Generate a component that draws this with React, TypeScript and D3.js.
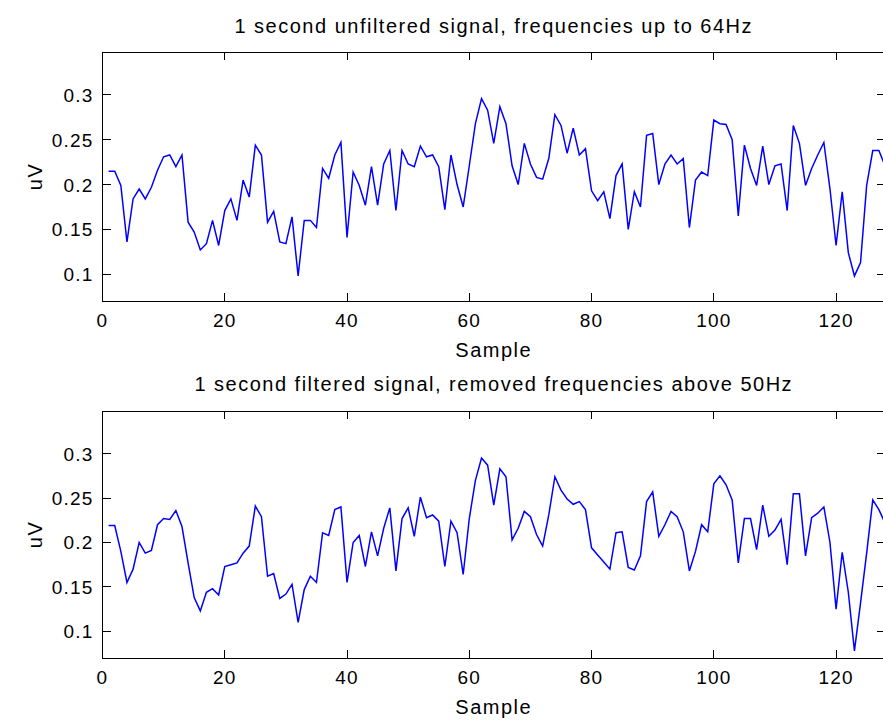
import React from "react";
import * as d3 from "d3";

const titles = [
  "1 second unfiltered signal, frequencies up to 64Hz",
  "1 second filtered signal, removed frequencies above 50Hz",
];
const xLabel = "Sample";
const yLabel = "uV";
const xTicks = [0, 20, 40, 60, 80, 100, 120];
const yTicks = [0.1, 0.15, 0.2, 0.25, 0.3];

const unfiltered = [
  0.215, 0.215, 0.199, 0.136, 0.184, 0.195, 0.184, 0.197, 0.216, 0.231,
  0.233, 0.22, 0.233, 0.158, 0.147, 0.127, 0.134, 0.16, 0.132, 0.171,
  0.184, 0.16, 0.205, 0.186, 0.244, 0.233, 0.158, 0.17, 0.136, 0.134,
  0.164, 0.098, 0.16, 0.16, 0.152, 0.218, 0.207, 0.233, 0.247, 0.141,
  0.214, 0.199, 0.177, 0.22, 0.177, 0.223, 0.238, 0.171, 0.238, 0.223,
  0.22, 0.243, 0.231, 0.233, 0.22, 0.172, 0.233, 0.2, 0.175, 0.221,
  0.268, 0.296, 0.283, 0.246, 0.287, 0.268, 0.221, 0.2, 0.246, 0.223,
  0.208, 0.206, 0.229, 0.278, 0.266, 0.235, 0.263, 0.233, 0.24, 0.193,
  0.182, 0.192, 0.162, 0.21, 0.223, 0.15, 0.192, 0.175, 0.255, 0.257,
  0.2, 0.223, 0.233, 0.223, 0.229, 0.152, 0.205, 0.214, 0.21, 0.272,
  0.268, 0.267, 0.25, 0.165, 0.244, 0.218, 0.199, 0.243, 0.2, 0.221,
  0.223, 0.171, 0.266, 0.246, 0.199, 0.218, 0.233, 0.247, 0.195, 0.132,
  0.192, 0.124, 0.098, 0.113, 0.199, 0.238, 0.238, 0.221,
];

const filtered = [
  0.219, 0.219, 0.19, 0.155, 0.17, 0.2, 0.188, 0.191, 0.22, 0.227,
  0.226, 0.236, 0.218, 0.177, 0.138, 0.123, 0.144, 0.148, 0.141, 0.173,
  0.175, 0.177, 0.188, 0.196, 0.241, 0.229, 0.162, 0.165, 0.137, 0.142,
  0.153, 0.11, 0.147, 0.162, 0.155, 0.211, 0.208, 0.237, 0.24, 0.155,
  0.2, 0.208, 0.173, 0.212, 0.185, 0.216, 0.239, 0.168, 0.227, 0.239,
  0.207, 0.251, 0.228, 0.231, 0.224, 0.173, 0.224, 0.211, 0.164, 0.227,
  0.27, 0.295, 0.287, 0.242, 0.283, 0.274, 0.203, 0.216, 0.235, 0.229,
  0.209, 0.196, 0.231, 0.274, 0.259, 0.249, 0.243, 0.246, 0.237, 0.194,
  0.186, 0.178, 0.17, 0.211, 0.212, 0.172, 0.169, 0.185, 0.246, 0.257,
  0.207, 0.22, 0.235, 0.229, 0.212, 0.168, 0.19, 0.22, 0.212, 0.266,
  0.275, 0.265, 0.248, 0.177, 0.227, 0.227, 0.192, 0.242, 0.207, 0.214,
  0.226, 0.175, 0.255, 0.255, 0.185, 0.228, 0.233, 0.24, 0.2, 0.125,
  0.189, 0.144, 0.078, 0.132, 0.188, 0.248, 0.237, 0.222,
];

const W = 883;
const H = 724;
const FONT = "'Liberation Sans', Arial, sans-serif";
const FS = 19;
const LS = 1.2;
const FS_T = 20;
const LS_T = 1.5;
const TICK = 8;

const x0 = 102.5;
const x1 = 885;

const panels = [
  { top: 52, bottom: 301, data: unfiltered, title: titles[0], titleY: 33 },
  { top: 411, bottom: 658, data: filtered, title: titles[1], titleY: 391 },
];

function Panel({ p, idx }: { p: any; idx: number }) {
  const x = d3.scaleLinear().domain([0, 128]).range([x0, x1]);
  const y = d3.scaleLinear().domain([0.07, 0.348]).range([p.bottom, p.top]);
  const line = d3
    .line<number>()
    .x((_, i) => x(i + 1))
    .y((d) => y(d));
  const cx = (x0 + 883) / 2 + 1;
  const cy = (p.top + p.bottom) / 2;
  const clipId = `clip${idx}`;
  return (
    <g>
      <defs>
        <clipPath id={clipId}>
          <rect x={x0} y={p.top} width={x1 - x0} height={p.bottom - p.top} />
        </clipPath>
      </defs>
      <text
        x={cx}
        y={p.titleY}
        textAnchor="middle"
        fontFamily={FONT}
        fontSize={FS_T}
        letterSpacing={LS_T}
      >
        {p.title}
      </text>
      <path
        d={line(p.data) || ""}
        fill="none"
        stroke="#0000ff"
        strokeWidth={1.5}
        clipPath={`url(#${clipId})`}
      />
      <rect
        x={x0}
        y={p.top}
        width={x1 - x0}
        height={p.bottom - p.top}
        fill="none"
        stroke="#000"
        strokeWidth={1}
        shapeRendering="crispEdges"
      />
      {xTicks.map((t) => (
        <g key={"x" + t}>
          <line
            x1={x(t)}
            x2={x(t)}
            y1={p.bottom}
            y2={p.bottom - TICK}
            stroke="#000"
            shapeRendering="crispEdges"
          />
          <line
            x1={x(t)}
            x2={x(t)}
            y1={p.top}
            y2={p.top + TICK}
            stroke="#000"
            shapeRendering="crispEdges"
          />
          <text
            x={x(t)}
            y={p.bottom + 26}
            textAnchor="middle"
            fontFamily={FONT}
            fontSize={FS}
            letterSpacing={LS}
          >
            {t}
          </text>
        </g>
      ))}
      {yTicks.map((t) => (
        <g key={"y" + t}>
          <line
            x1={x0}
            x2={x0 + TICK}
            y1={y(t)}
            y2={y(t)}
            stroke="#000"
            shapeRendering="crispEdges"
          />
          <line
            x1={x1}
            x2={x1 - TICK}
            y1={y(t)}
            y2={y(t)}
            stroke="#000"
            shapeRendering="crispEdges"
          />
          <text
            x={x0 - 9}
            y={y(t) + 7}
            textAnchor="end"
            fontFamily={FONT}
            fontSize={FS}
            letterSpacing={LS}
          >
            {String(t)}
          </text>
        </g>
      ))}
      <text
        x={cx}
        y={p.bottom + 56}
        textAnchor="middle"
        fontFamily={FONT}
        fontSize={FS_T}
        letterSpacing={LS_T}
      >
        {xLabel}
      </text>
      <text
        transform={`translate(42,${cy}) rotate(-90)`}
        textAnchor="middle"
        fontFamily={FONT}
        fontSize={FS_T}
        letterSpacing={LS_T}
      >
        {yLabel}
      </text>
    </g>
  );
}

export default function App() {
  return (
    <svg
      width={W}
      height={H}
      style={{ position: "absolute", left: 0, top: 0, background: "#fff" }}
    >
      <rect x={0} y={0} width={W} height={H} fill="#fff" />
      {panels.map((p, i) => (
        <Panel key={i} p={p} idx={i} />
      ))}
    </svg>
  );
}
